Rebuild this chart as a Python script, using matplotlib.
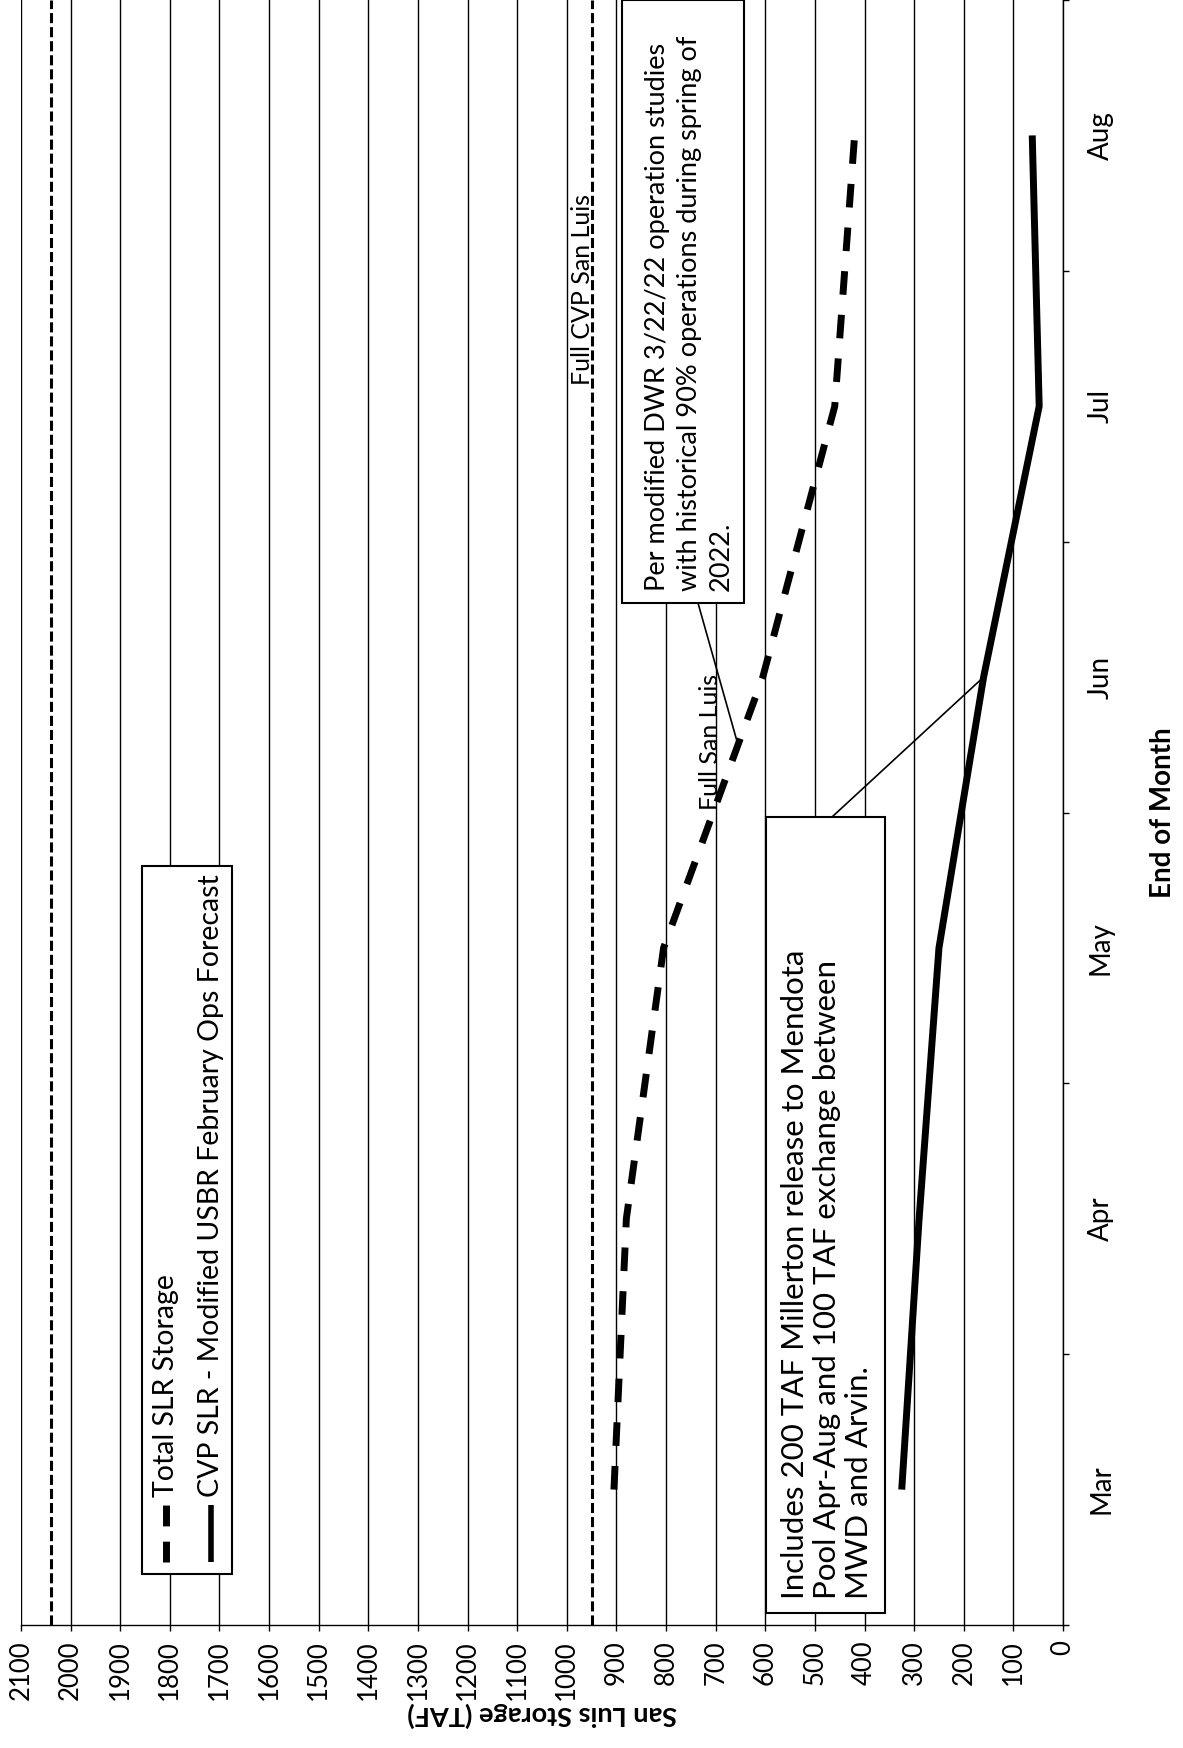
import matplotlib
matplotlib.use('Agg')
import matplotlib.pyplot as plt
from matplotlib.patches import Rectangle
from matplotlib.lines import Line2D
import numpy as np

# end of month San Luis storage, TAF
months = ['Mar', 'Apr', 'May', 'Jun', 'Jul', 'Aug']
total_slr = [905, 880, 805, 605, 460, 420]
cvp_slr = [325, 290, 250, 160, 48, 62]
full_san_luis = 2040
full_cvp_san_luis = 950
storage_ticks = list(range(0, 2101, 100))

legend_labels = ['Total SLR Storage', 'CVP SLR - Modified USBR February Ops Forecast']
note_dwr = ('Per modified DWR 3/22/22 operation studies\n'
            'with historical 90% operations during spring of\n'
            '2022.')
note_mill = ('Includes 200 TAF Millerton release to Mendota\n'
             'Pool Apr-Aug and 100 TAF exchange between\n'
             'MWD and Arvin.')

W, H = 1183, 1748
plt.rcParams['font.family'] = ['Lato', 'DejaVu Sans']
fig = plt.figure(figsize=(W / 100, H / 100), dpi=100)


def fx(x):
    return x / W


def fy(y):
    # y counted from the top of the page
    return 1 - y / H


# page is turned a quarter turn: storage runs right to left, months bottom to top
ax = fig.add_axes([fx(21), fy(1625), (1063 - 21) / W, 1625 / H])
ypos = np.arange(len(months))

ax.plot(total_slr, ypos, color='black', lw=5, dashes=(3.4, 2.9), dash_capstyle='butt', zorder=4)
ax.plot(cvp_slr, ypos, color='black', lw=5, solid_capstyle='butt', zorder=4)
ax.axvline(full_san_luis, color='black', lw=2.2, dashes=(3.3, 1.3), zorder=3)
ax.axvline(full_cvp_san_luis, color='black', lw=2.2, dashes=(3.3, 1.3), zorder=3)

ax.set_xlim(2100, 0)
ax.set_ylim(-0.5, len(months) - 0.5)
ax.set_xticks(storage_ticks)
ax.set_xticklabels([str(t) for t in storage_ticks], rotation=90, fontsize=18.5)
ax.tick_params(axis='x', direction='out', length=4, width=1, pad=7)
ax.grid(axis='x', color='black', lw=1)
ax.yaxis.tick_right()
ax.set_yticks(np.arange(-0.5, len(months)))
ax.set_yticklabels([])
ax.set_yticks(ypos, minor=True)
ax.set_yticklabels(months, minor=True, rotation=90, fontsize=20, va='center')
ax.tick_params(axis='y', which='major', direction='out', length=4, width=1)
ax.tick_params(axis='y', which='minor', length=0, pad=18)
ax.spines['top'].set_visible(False)
ax.spines['left'].set_visible(False)
ax.spines['right'].set_linewidth(1)
ax.spines['bottom'].set_linewidth(1)

ax.set_xlabel('San Luis Storage (TAF)', rotation=180, fontsize=19.5, fontweight='bold')
ax.xaxis.set_label_coords(0.5, (1625 - 1702) / 1625)
ax.yaxis.set_label_position('right')
ax.set_ylabel('End of Month', fontsize=20, fontweight='bold')
ax.yaxis.set_label_coords((1150 - 21) / 1042, 0.5)

ax.text(full_cvp_san_luis - 4, 4.08, 'Full CVP San Luis', rotation=90, ha='right', va='bottom', fontsize=18)
ax.text(688, 2.51, 'Full San Luis', rotation=90, ha='right', va='bottom', fontsize=18)

# legend box
fig.add_artist(Rectangle((fx(142), fy(1574)), (232 - 142) / W, (1574 - 866) / H, transform=fig.transFigure,
                         facecolor='white', edgecolor='black', lw=1.5, zorder=5))
fig.add_artist(Line2D([fx(166), fx(166)], [fy(1562), fy(1505)], transform=fig.transFigure, color='black',
                      lw=5, dashes=(3.0, 2.2), dash_capstyle='butt', zorder=6))
fig.add_artist(Line2D([fx(211), fx(211)], [fy(1562), fy(1505)], transform=fig.transFigure, color='black',
                      lw=4, solid_capstyle='butt', zorder=6))
fig.text(fx(166), fy(1497), legend_labels[0], rotation=90, ha='center', va='bottom', fontsize=20.5, zorder=7)
fig.text(fx(211), fy(1497), legend_labels[1], rotation=90, ha='center', va='bottom', fontsize=20.5, zorder=7)

# note boxes
fig.add_artist(Rectangle((fx(622), fy(603)), (744 - 622) / W, 603 / H, transform=fig.transFigure,
                         facecolor='white', edgecolor='black', lw=1.5, zorder=5))
fig.text(fx(645), fy(591), note_dwr, rotation=90, ha='left', va='bottom', multialignment='left',
         fontsize=19.5, linespacing=1.34, zorder=7)
fig.add_artist(Rectangle((fx(766), fy(1613)), (885 - 766) / W, (1613 - 817) / H, transform=fig.transFigure,
                         facecolor='white', edgecolor='black', lw=1.5, zorder=5))
fig.text(fx(781), fy(1599), note_mill, rotation=90, ha='left', va='bottom', multialignment='left',
         fontsize=22.5, linespacing=1.18, zorder=7)

# leader lines from the notes to the series
t = 0.75
dwr_target = (total_slr[2] + t * (total_slr[3] - total_slr[2]), 2 + t)
ax.annotate('', xy=dwr_target, xycoords='data', xytext=(fx(698), fy(603)), textcoords='figure fraction',
            arrowprops=dict(arrowstyle='-', color='black', lw=1.2, shrinkA=0, shrinkB=0))
ax.annotate('', xy=(cvp_slr[3], 3), xycoords='data', xytext=(fx(832), fy(817)), textcoords='figure fraction',
            arrowprops=dict(arrowstyle='-', color='black', lw=1.2, shrinkA=0, shrinkB=0))

fig.savefig('out.png', dpi=100)
